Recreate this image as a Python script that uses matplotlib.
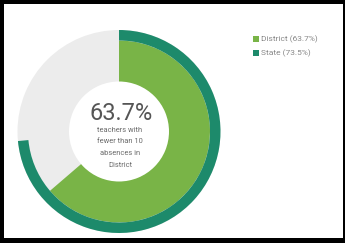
import matplotlib.pyplot as plt
from matplotlib.patches import Rectangle

# values
labels = ["District", "State"]
values = [63.7, 73.5]
colors = ["#79b447", "#1d8a6b"]
center_lines = ["teachers with", "fewer than 10", "absences in", "District"]

W, H = 345, 243
fig = plt.figure(figsize=(W / 100, H / 100), dpi=100)
fig.patch.set_facecolor("black")

# white card inside the black frame, pixel coordinates (y up)
ax = fig.add_axes([4 / W, 5 / H, 339 / W, 234 / H])
ax.set_facecolor("white")

cx, cy = 119, 243 - 131.5
R = 101.5
ring = 10.5

# grey background disk
ax.pie([1], radius=R, center=(cx, cy), colors=["#ececec"],
       wedgeprops=dict(linewidth=0), frame=True)
# district pie
ax.pie([values[0], 100 - values[0]], radius=R - ring, center=(cx, cy),
       colors=[colors[0], "none"], startangle=90, counterclock=False,
       wedgeprops=dict(linewidth=0), frame=True)
# state ring
ax.pie([values[1], 100 - values[1]], radius=R, center=(cx, cy),
       colors=[colors[1], "none"], startangle=90, counterclock=False,
       wedgeprops=dict(width=ring, linewidth=0), frame=True)
# white hole
ax.pie([1], radius=50, center=(cx, cy), colors=["white"],
       wedgeprops=dict(linewidth=0), frame=True)

ax.set_xlim(4, 343)
ax.set_ylim(5, 239)
ax.set_aspect("auto")
ax.set_xticks([])
ax.set_yticks([])
for s in ax.spines.values():
    s.set_visible(False)

ax.text(cx + 2, 243 - 114, f"{values[0]}%", ha="center", va="center",
        fontsize=17, color="#555555", family="Roboto")
for i, line in enumerate(center_lines):
    ax.text(cx + 1, 243 - (130 + 11.8 * i), line, ha="center", va="center",
            fontsize=5.4, color="#6a6a6a", family="Roboto")

# legend
for i, (lab, v, c) in enumerate(zip(labels, values, colors)):
    y = 243 - (39 + 14 * i)
    ax.add_patch(Rectangle((253, y - 3), 6, 6, color=c, lw=0))
    ax.text(261, y, f"{lab} ({v}%)", ha="left", va="center",
            fontsize=6, color="#888888", family="Roboto")

fig.savefig("out.png", dpi=100, facecolor=fig.get_facecolor())
